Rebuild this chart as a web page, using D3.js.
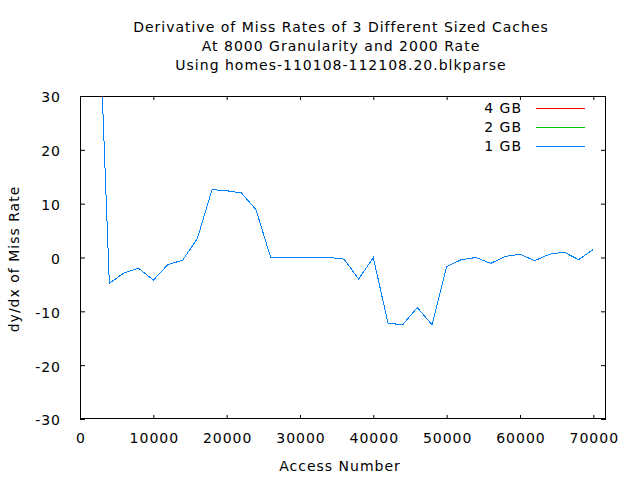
<!DOCTYPE html>
<html>
<head>
<meta charset="utf-8">
<script src="https://cdn.jsdelivr.net/npm/d3@7"></script>
<style>
  html, body { margin: 0; padding: 0; background: #fff; }
  svg text { font-family: "DejaVu Sans", sans-serif; fill: #000; letter-spacing: 1px; }
</style>
</head>
<body>
<svg id="chart" width="640" height="480"></svg>
<script>
// ---- data ----
const titleLines = [
  "Derivative of Miss Rates of 3 Different Sized Caches",
  "At 8000 Granularity and 2000 Rate",
  "Using homes-110108-112108.20.blkparse"
];
const xLabel = "Access Number";
const yLabel = "dy/dx of Miss Rate";
const xTicks = [0, 10000, 20000, 30000, 40000, 50000, 60000, 70000];
const yTicks = [-30, -20, -10, 0, 10, 20, 30];
const accessNumbers = [2000, 4000, 6000, 8000, 10000, 12000, 14000, 16000, 18000, 20000,
  22000, 24000, 26000, 28000, 30000, 32000, 34000, 36000, 38000, 40000,
  42000, 44000, 46000, 48000, 50000, 52000, 54000, 56000, 58000, 60000,
  62000, 64000, 66000, 68000, 70000];
const derivative = [68, -4.8, -2.85, -2.0, -4.2, -1.3, -0.5, 3.5, 12.6, 12.4,
  12.0, 8.9, 0, 0, 0, 0, 0, -0.3, -4.0, 0,
  -12.2, -12.5, -9.3, -12.5, -1.7, -0.4, 0, -1.1, 0.2, 0.6,
  -0.6, 0.6, 1.0, -0.4, 1.5];
const seriesNames = ["4 GB", "2 GB", "1 GB"];
const seriesColors = ["#ff0000", "#00c000", "#0080ff"];
const seriesValues = [derivative, derivative, derivative];

// ---- layout ----
const svg = d3.select("#chart");
const L = 80, R = 606, T = 96, B = 419;
const x = d3.scaleLinear().domain([0, 71730]).range([L, R]);
const y = d3.scaleLinear().domain([-30, 30]).range([B, T]);

svg.append("rect").attr("width", 640).attr("height", 480).attr("fill", "#fff");

const defs = svg.append("defs");
defs.append("clipPath").attr("id", "clip")
  .append("rect").attr("x", L).attr("y", T).attr("width", R - L).attr("height", B - T);

// axes (ticks pointing inward, mirrored)
const fmt = d => String(d);
const gB = svg.append("g").attr("transform", `translate(0,${B})`)
  .call(d3.axisBottom(x).tickValues(xTicks).tickFormat(fmt).tickSize(-4).tickPadding(14));
const gT = svg.append("g").attr("transform", `translate(0,${T})`)
  .call(d3.axisTop(x).tickValues(xTicks).tickFormat("").tickSize(-4));
const gL = svg.append("g").attr("transform", `translate(${L},0)`)
  .call(d3.axisLeft(y).tickValues(yTicks).tickFormat(fmt).tickSize(-5).tickPadding(19));
const gR = svg.append("g").attr("transform", `translate(${R},0)`)
  .call(d3.axisRight(y).tickValues(yTicks).tickFormat("").tickSize(-5));
[gB, gT, gL, gR].forEach(g => {
  g.select(".domain").remove();
  g.selectAll(".tick line").attr("stroke", "#000").attr("stroke-width", 1);
  g.selectAll(".tick text").attr("font-family", "DejaVu Sans").attr("font-size", 14).attr("fill", "#000");
});
gB.selectAll(".tick text").attr("dx", "0.5");
gL.selectAll(".tick text").attr("dy", "0.42em");

// series lines
const line = d3.line().x((d, i) => x(accessNumbers[i])).y(d => y(d));
const plot = svg.append("g").attr("clip-path", "url(#clip)");
seriesValues.forEach((vals, k) => {
  plot.append("path").datum(vals)
    .attr("d", line)
    .attr("fill", "none")
    .attr("stroke", seriesColors[k])
    .attr("stroke-width", 1)
    .attr("shape-rendering", "crispEdges");
});

// border
svg.append("rect").attr("x", L + 0.5).attr("y", T + 0.5)
  .attr("width", R - L - 1).attr("height", B - T - 1)
  .attr("fill", "none").attr("stroke", "#000").attr("stroke-width", 1);

// legend
const lg = svg.append("g");
seriesNames.forEach((name, k) => {
  const yy = 108 + k * 19;
  lg.append("text").attr("x", 522).attr("y", yy).attr("dy", "0.36em")
    .attr("text-anchor", "end").attr("font-size", 14).text(name);
  lg.append("line").attr("x1", 536).attr("x2", 585).attr("y1", yy + 0.5).attr("y2", yy + 0.5)
    .attr("stroke", seriesColors[k]).attr("stroke-width", 1);
});

// title
titleLines.forEach((t, i) => {
  svg.append("text").attr("x", 341).attr("y", 32 + i * 19)
    .attr("text-anchor", "middle").attr("font-size", 14).text(t);
});

// axis labels
svg.append("text").attr("x", 340).attr("y", 471)
  .attr("text-anchor", "middle").attr("font-size", 14).text(xLabel);
svg.append("text").attr("transform", "translate(19,259) rotate(-90)")
  .attr("text-anchor", "middle").attr("font-size", 14).text(yLabel);
</script>
</body>
</html>
